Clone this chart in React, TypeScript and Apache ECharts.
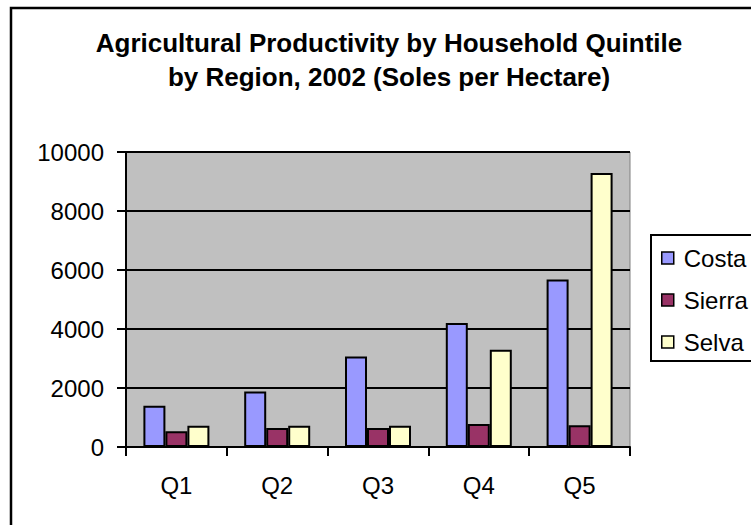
import React, { useEffect, useRef } from "react";
import * as echarts from "echarts";

const titleLines = [
  "Agricultural Productivity by Household Quintile",
  "by Region, 2002 (Soles per Hectare)",
];
const categories = ["Q1", "Q2", "Q3", "Q4", "Q5"];
const seriesNames = ["Costa", "Sierra", "Selva"];
const costa = [1400, 1880, 3070, 4200, 5680];
const sierra = [530, 645, 645, 780, 735];
const selva = [720, 720, 720, 3300, 9290];
const colors = ["#9999FF", "#993366", "#FFFFCC"];

const FONT = "'Liberation Sans', Arial, sans-serif";

export default function App() {
  const ref = useRef<HTMLDivElement>(null);
  useEffect(() => {
    if (!ref.current) return;
    const chart = echarts.init(ref.current, undefined, { renderer: "svg" });
    const values = [costa, sierra, selva];
    chart.setOption({
      animation: false,
      backgroundColor: "#ffffff",
      textStyle: { fontFamily: FONT },
      graphic: [
        {
          type: "rect",
          shape: { x: 11, y: 8, width: 800, height: 600 },
          style: { fill: "none", stroke: "#000", lineWidth: 2.5 },
          silent: true,
        },
        {
          type: "text",
          x: 389,
          y: 43,
          style: {
            text: titleLines[0],
            font: `bold 26px ${FONT}`,
            fill: "#000",
            textAlign: "center",
            textVerticalAlign: "middle",
          },
        },
        {
          type: "text",
          x: 389,
          y: 77,
          style: {
            text: titleLines[1],
            font: `bold 26px ${FONT}`,
            fill: "#000",
            textAlign: "center",
            textVerticalAlign: "middle",
          },
        },
      ],
      legend: {
        data: seriesNames,
        orient: "vertical",
        left: 651,
        top: 235,
        icon: "rect",
        itemWidth: 12,
        itemHeight: 12,
        itemGap: 18,
        padding: [11, 14, 7, 10],
        borderColor: "#000",
        borderWidth: 2,
        borderRadius: 0,
        itemStyle: { borderColor: "#000", borderWidth: 1.5 },
        textStyle: {
          fontSize: 24,
          color: "#000",
          fontFamily: FONT,
          padding: [0, 0, 0, 5],
        },
      },
      grid: {
        left: 126,
        right: 121,
        top: 152,
        bottom: 78,
        show: true,
        backgroundColor: "#C0C0C0",
        borderColor: "#808080",
        borderWidth: 1,
        containLabel: false,
      },
      xAxis: {
        type: "category",
        data: categories,
        boundaryGap: true,
        axisLine: { show: true, lineStyle: { color: "#000", width: 2 } },
        axisTick: {
          show: true,
          alignWithLabel: false,
          inside: false,
          length: 9,
          lineStyle: { color: "#000", width: 2 },
        },
        axisLabel: { color: "#000", fontSize: 24, margin: 26, fontFamily: FONT },
        splitLine: { show: false },
      },
      yAxis: {
        type: "value",
        min: 0,
        max: 10000,
        interval: 2000,
        axisLine: { show: true, lineStyle: { color: "#000", width: 2 } },
        axisTick: {
          show: true,
          inside: false,
          length: 9,
          lineStyle: { color: "#000", width: 2 },
        },
        axisLabel: {
          color: "#000",
          fontSize: 24,
          margin: 22,
          fontFamily: FONT,
          formatter: (v: number) => String(v),
        },
        splitLine: { show: true, lineStyle: { color: "#000", width: 2 } },
      },
      series: seriesNames.map((name, i) => ({
        name,
        type: "bar",
        data: values[i],
        barWidth: 22,
        barGap: "0%",
        itemStyle: { color: colors[i], borderColor: "#000", borderWidth: 2 },
      })),
    });
    return () => chart.dispose();
  }, []);
  return (
    <div
      ref={ref}
      style={{ position: "absolute", left: 0, top: 0, width: 751, height: 525 }}
    />
  );
}
